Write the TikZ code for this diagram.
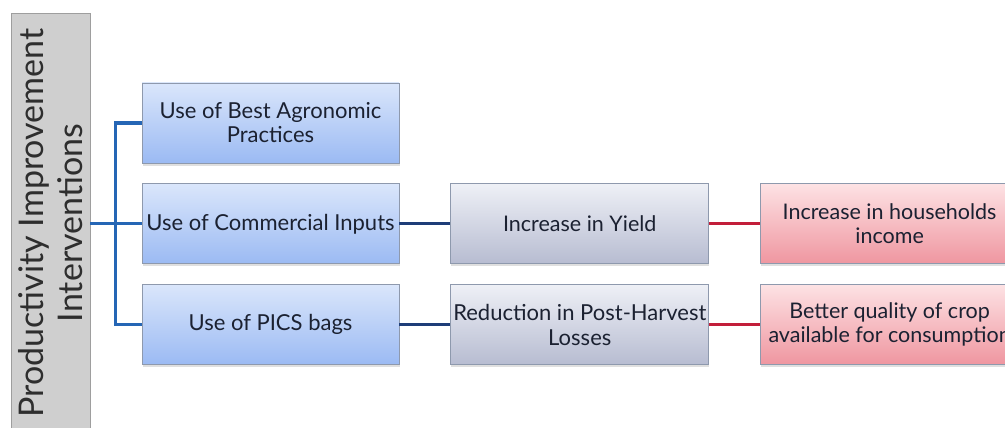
\documentclass[tikz,border=0pt]{standalone}
\usepackage{fontspec}
\setmainfont{Lato}
\usetikzlibrary{positioning,shadows}

\definecolor{inktext}{HTML}{1B2131}
\definecolor{bluetop}{HTML}{DAE6FB}
\definecolor{bluebot}{HTML}{9BBAF3}
\definecolor{graytop}{HTML}{EEF0F6}
\definecolor{graybot}{HTML}{B7BCD1}
\definecolor{redtop}{HTML}{FDE2E4}
\definecolor{redbot}{HTML}{EF96A0}
\definecolor{boxedge}{HTML}{8E99AD}
\definecolor{forkblue}{HTML}{2566B5}
\definecolor{navyline}{HTML}{1E3D78}
\definecolor{crimson}{HTML}{C21E3A}

\begin{document}
\begin{tikzpicture}[x=1pt,y=-1pt,
			node distance=20pt and 51pt,
			every node/.style={
				draw=boxedge,
				line width=0.8pt,
				align=center,
				text=inktext,
				minimum width=257pt,
				minimum height=80pt,
				inner sep=2pt,
				drop shadow={shadow xshift=0.5pt,shadow yshift=-2.5pt,opacity=0.25}
			},
			bluebox/.style={top color=bluetop,bottom color=bluebot},
			graybox/.style={top color=graytop,bottom color=graybot,minimum width=258pt},
			redbox/.style={top color=redtop,bottom color=redbot,minimum width=258pt,font=\fontsize{21.5}{24}\selectfont},
			barbox/.style={draw=black!38,fill=black!19,text=black!82,rotate=90,minimum width=420pt,minimum height=79pt,drop shadow={opacity=0},font=\fontsize{34}{39}\selectfont},
			forkline/.style={draw=forkblue,line width=3pt},
			linkline/.style={draw=navyline,line width=3pt},
			redlink/.style={draw=crimson,line width=3pt}]
			
			\useasboundingbox (0,0) rectangle (1005,428);
			
			\clip (0,0) rectangle (1005,428);
			
			\node(piv)[barbox] at (50.5,223){Productivity Improvement\\Interventions};
			
			\node(bap)[bluebox,font=\fontsize{22}{24}\selectfont] at (270.5,123){Use of Best Agronomic\\Practices};
			
			\node(uci)[bluebox,below=of bap,font=\fontsize{22}{25}\selectfont]{Use of Commercial Inputs};
			
			\node(pics)[bluebox,below=of uci,font=\fontsize{22}{25}\selectfont]{Use of PICS bags};
			
			\node(yield)[graybox,right=of uci,font=\fontsize{21.5}{24}\selectfont]{Increase in Yield};
			
			\node(phl)[graybox,right=of pics,font=\fontsize{22}{25}\selectfont]{Reduction in Post-Harvest\\Losses};
			
			\node(income)[redbox,right=of yield]{Increase in households\\income};
			
			\node(crop)[redbox,right=of phl]{Better quality of crop\\available for consumption};
			
			\coordinate[left=26pt of uci.west](fork);
			
			\draw[forkline](uci.west -| piv.south)--(uci.west);
			
			\draw[forkline](bap.west)-|(fork)|-(pics.west);
			
			\draw[linkline](uci)--(yield);
			
			\draw[linkline](pics)--(phl);
			
			\draw[redlink](yield)--(income);
			
			\draw[redlink](phl)--(crop);
			
\end{tikzpicture}
\end{document}
